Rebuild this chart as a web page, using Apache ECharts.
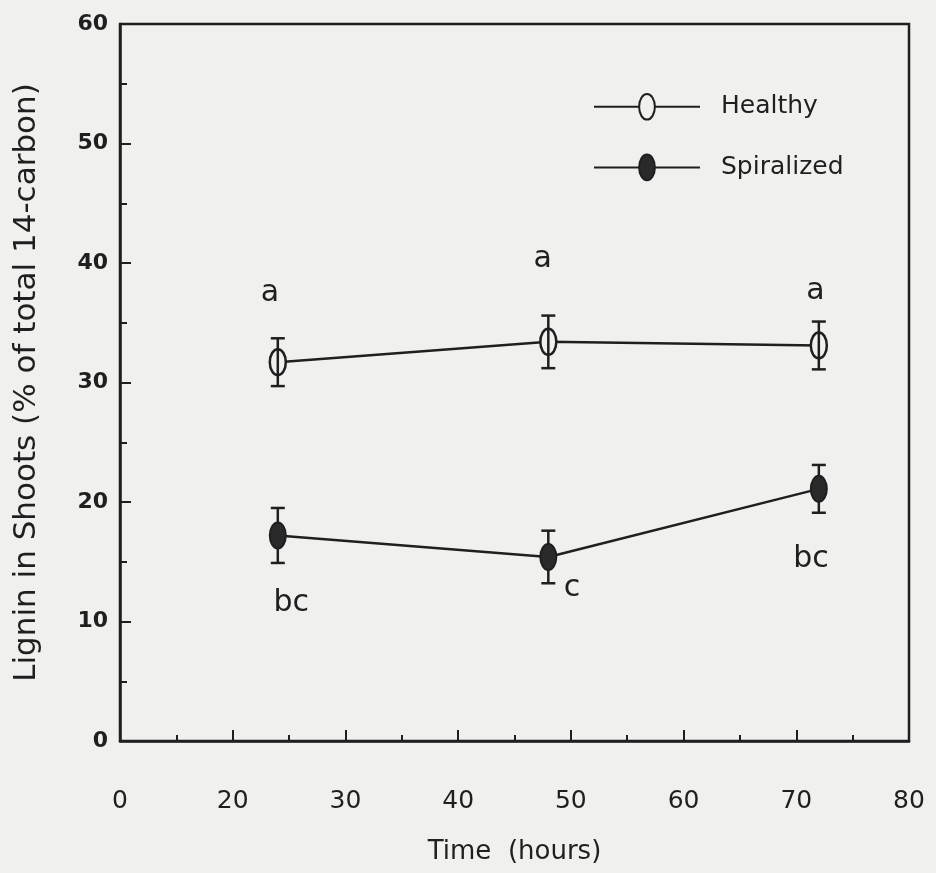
<!DOCTYPE html>
<html>
<head>
<meta charset="utf-8">
<script src="https://cdn.jsdelivr.net/npm/echarts@6/dist/echarts.min.js"></script>
<style>
html,body{margin:0;padding:0;background:#f0f0ee;}
#chart{width:936px;height:873px;}
</style>
</head>
<body>
<div id="chart"></div>
<script>
//数据
var hours = [24, 48, 72];
var healthy = [31.7, 33.4, 33.1];
var healthyErr = [2.0, 2.2, 2.0];
var spiral = [17.2, 15.4, 21.1];
var spiralErr = [2.3, 2.2, 2.0];
//字母标注 [x, y, 文本]
var letters = [
    [23.3, 37.5, 'a'], [47.5, 40.3, 'a'], [71.7, 37.6, 'a'],
    [25.2, 11.5, 'bc'], [50.1, 12.8, 'c'], [71.3, 15.2, 'bc']
];

var ink = '#1f1f1f';
var bg = '#f0f0ee';
var font = '"DejaVu Sans", "Liberation Sans", sans-serif';
//椭圆符号: 前两个 M 把包围盒撑成正方形, 图例里也保持椭圆
var oval = 'path://M-5,0 M21,26 M8,0 C12.4,0 16,5.8 16,13 C16,20.2 12.4,26 8,26 C3.6,26 0,20.2 0,13 C0,5.8 3.6,0 8,0 Z';

function pairs(xs, ys) {
    var out = [];
    for (var i = 0; i < xs.length; i++) {
        out.push([xs[i], ys[i]]);
    }
    return out;
}

function errData(xs, ys, es) {
    var out = [];
    for (var i = 0; i < xs.length; i++) {
        out.push([xs[i], ys[i] - es[i], ys[i] + es[i]]);
    }
    return out;
}

//误差线
function renderErr(params, api) {
    var lo = api.coord([api.value(0), api.value(1)]);
    var hi = api.coord([api.value(0), api.value(2)]);
    var w = 7;
    var st = { stroke: ink, lineWidth: 2.5 };
    return {
        type: 'group',
        children: [
            { type: 'line', shape: { x1: lo[0], y1: lo[1], x2: hi[0], y2: hi[1] }, style: st },
            { type: 'line', shape: { x1: lo[0] - w, y1: lo[1], x2: lo[0] + w, y2: lo[1] }, style: st },
            { type: 'line', shape: { x1: hi[0] - w, y1: hi[1], x2: hi[0] + w, y2: hi[1] }, style: st }
        ]
    };
}

var myChart = echarts.init(document.getElementById('chart'));
myChart.setOption({
    backgroundColor: bg,
    animation: false,
    grid: {
        left: 120, right: 27, top: 24, bottom: 132,
        show: true, borderColor: ink, borderWidth: 2.5
    },
    legend: {
        orient: 'vertical',
        left: 588, top: 88,
        itemWidth: 106, itemHeight: 32, itemGap: 33,
        textStyle: { fontFamily: font, fontSize: 25, color: ink, padding: [0, 0, 0, 16] },
        data: ['Healthy', 'Spiralized']
    },
    xAxis: {
        type: 'value',
        min: 10, max: 80, interval: 10,
        name: 'Time  (hours)',
        nameLocation: 'middle',
        nameGap: 98,
        nameTextStyle: { fontFamily: font, fontSize: 26, color: ink },
        axisLine: { lineStyle: { color: ink, width: 2.5 } },
        axisTick: { inside: true, length: 11, lineStyle: { color: ink, width: 2 } },
        minorTick: { show: true, splitNumber: 2, length: 6, lineStyle: { color: ink, width: 2 } },
        splitLine: { show: false },
        axisLabel: {
            margin: 48,
            fontFamily: font, fontSize: 25, color: ink,
            formatter: function (v) { return v === 10 ? '0' : String(v); }
        }
    },
    yAxis: {
        type: 'value',
        min: 0, max: 60, interval: 10,
        name: 'Lignin in Shoots (% of total 14-carbon)',
        nameLocation: 'middle',
        nameGap: 78,
        nameTextStyle: { fontFamily: font, fontSize: 31, color: ink },
        axisLine: { lineStyle: { color: ink, width: 2.5 } },
        axisTick: { inside: true, length: 11, lineStyle: { color: ink, width: 2 } },
        minorTick: { show: true, splitNumber: 2, length: 7, lineStyle: { color: ink, width: 2 } },
        splitLine: { show: false },
        axisLabel: { margin: 12, fontFamily: font, fontSize: 22, fontWeight: 'bold', color: ink }
    },
    series: [
        {
            name: 'Healthy',
            type: 'line',
            data: pairs(hours, healthy),
            symbol: oval,
            symbolSize: 26,
            lineStyle: { color: ink, width: 2.5 },
            itemStyle: { color: bg, borderColor: ink, borderWidth: 2.5 },
            z: 3
        },
        {
            name: 'Spiralized',
            type: 'line',
            data: pairs(hours, spiral),
            symbol: oval,
            symbolSize: 26,
            lineStyle: { color: ink, width: 2.5 },
            itemStyle: { color: '#2a2a2a', borderColor: ink, borderWidth: 2 },
            z: 3
        },
        {
            type: 'custom',
            renderItem: renderErr,
            data: errData(hours, healthy, healthyErr),
            z: 4
        },
        {
            type: 'custom',
            renderItem: renderErr,
            data: errData(hours, spiral, spiralErr),
            z: 2
        },
        {
            //显著性字母
            type: 'scatter',
            symbolSize: 0,
            data: letters,
            itemStyle: { opacity: 1 },
            label: {
                show: true,
                position: 'inside',
                formatter: function (p) { return p.value[2]; },
                fontFamily: font, fontSize: 30, color: ink
            },
            z: 5
        }
    ]
});
</script>
</body>
</html>
